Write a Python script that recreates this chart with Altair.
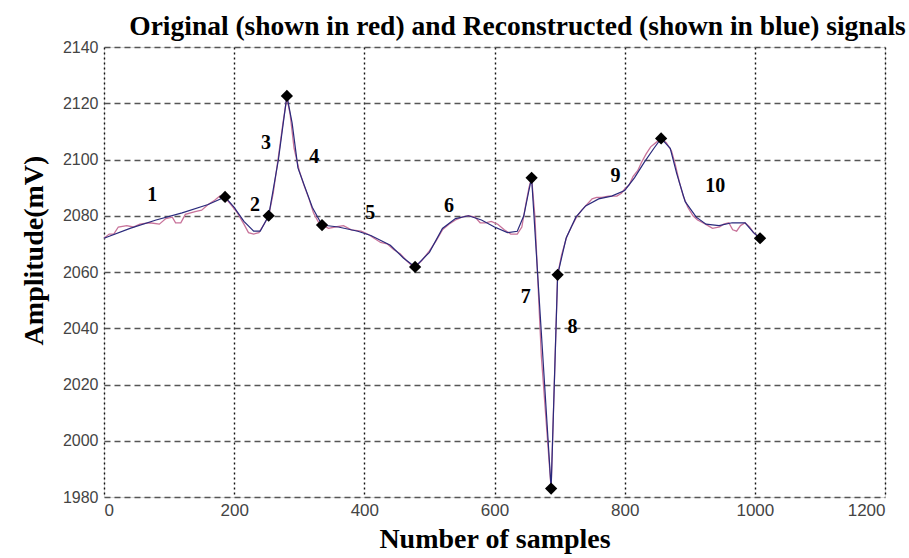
import altair as alt
import pandas as pd

# Original signal (red)
orig_x = [0, 8, 15, 22, 35, 45, 55, 70, 85, 95, 105, 110, 118, 125, 140, 150, 160, 170, 178, 186,
          195, 205, 215, 222, 230, 238, 246, 253, 260, 268, 275, 281, 286, 292, 300, 307, 315, 322,
          330, 337, 345, 355, 368, 380, 395, 405, 415, 425, 435, 445, 455, 465, 472, 478, 488, 500,
          510, 520, 530, 540, 550, 560, 570, 578, 586, 595, 605, 615, 625, 635, 642, 648, 653, 657,
          662, 672, 687, 697, 703, 711, 718, 726, 734, 742, 750, 757, 765, 775, 788, 795, 800, 807,
          813, 820, 826, 833, 840, 848, 856, 864, 872, 878, 884, 890, 897, 905, 912, 920, 928, 935,
          946, 952, 960, 966, 972, 978, 985, 992, 998, 1008]
orig_y = [2072, 2073.5, 2073.5, 2076, 2076.5, 2076, 2077, 2077.5, 2077, 2079, 2079.5, 2077.5, 2077.5,
          2080.5, 2081.5, 2082, 2084, 2085.5, 2087, 2086.5,
          2084, 2081, 2077, 2074, 2073.5, 2074, 2077, 2080, 2088, 2101, 2113, 2122, 2116, 2104, 2096,
          2091, 2086, 2081, 2077.5, 2076.5, 2075.5, 2076, 2076.5, 2075, 2074.5, 2073.5, 2072, 2070.5,
          2070, 2068, 2066.5, 2064, 2062.5, 2061.8, 2064, 2067.5, 2071, 2075, 2077, 2078.5, 2079.5,
          2080, 2079.5, 2077.5, 2077.5, 2078, 2077, 2075, 2073.5, 2073.5, 2076, 2084, 2090, 2093.5,
          2080, 2030, 1983, 2059, 2066, 2072.5, 2076, 2079.5, 2082, 2084, 2086, 2086.5, 2086.5, 2087,
          2087, 2088, 2089.5, 2091, 2094, 2096, 2099, 2102, 2104.5, 2106, 2107.5, 2106, 2103, 2098,
          2092, 2087, 2083, 2080, 2078.5, 2077.5, 2076.5, 2075.5, 2076, 2077, 2077.5, 2075, 2074.5,
          2076.5, 2077.5, 2076, 2074, 2072]

# Reconstructed signal (blue)
rec_x = [0, 40, 80, 120, 160, 186, 200, 215, 230, 240, 253, 268, 281, 289, 298, 309, 320, 335, 360,
         390, 410, 440, 460, 478, 500, 520, 540, 560, 580, 600, 620, 635, 645, 652, 657, 687, 697,
         710, 725, 740, 760, 780, 800, 815, 830, 845, 856, 870, 880, 893, 910, 925, 945, 965, 985,
         998, 1008]
rec_y = [2072, 2075.5, 2078.5, 2081, 2084, 2086.7, 2083, 2078, 2074.5, 2074.5, 2080, 2100, 2122.6,
         2113, 2097, 2090, 2083, 2076.7, 2076, 2074.5, 2073, 2069.5, 2065, 2061.8, 2067, 2075.5,
         2079, 2080, 2078.5, 2076, 2074, 2074.5, 2080, 2088, 2093.5, 1983, 2059, 2072, 2079.5,
         2083.5, 2086, 2087, 2089, 2093.5, 2099, 2104, 2107.5, 2104, 2095, 2085, 2079.5, 2077,
         2076.5, 2077.5, 2077.5, 2074, 2072]

# Segment boundary markers
mark_x = [186, 253, 281, 335, 478, 657, 687, 697, 856, 1008]
mark_y = [2086.7, 2080, 2122.6, 2076.7, 2061.8, 2093.5, 1983, 2059, 2107.5, 2072]

# Segment numbers
seg_label = ["1", "2", "3", "4", "5", "6", "7", "8", "9", "10"]
seg_x = [74, 232, 249, 323, 409, 530, 648, 720, 786, 939]
seg_y = [2087.4, 2083.8, 2105.9, 2100.9, 2081, 2083.5, 2051, 2040.4, 2094, 2090.6]

x_ticks = [0, 200, 400, 600, 800, 1000, 1200]
y_ticks = [1980, 2000, 2020, 2040, 2060, 2080, 2100, 2120, 2140]

orig_df = pd.DataFrame({"x": orig_x, "y": orig_y})
rec_df = pd.DataFrame({"x": rec_x, "y": rec_y})
mark_df = pd.DataFrame({"x": mark_x, "y": mark_y})
seg_df = pd.DataFrame({"x": seg_x, "y": seg_y, "label": seg_label})

xscale = alt.Scale(domain=[0, 1200], nice=False, zero=False)
yscale = alt.Scale(domain=[1980, 2140], nice=False, zero=False)

xaxis = alt.Axis(values=x_ticks, title="Number of samples", grid=True, gridDash=[2, 3],
                 gridColor="#111111", gridWidth=1.4, gridOpacity=1, ticks=False, domain=False,
                 labelFont="Liberation Sans", labelFontSize=17, labelColor="#444444",
                 labelPadding=5, titleFont="Liberation Serif", titleFontSize=28,
                 titleFontWeight="bold", titleColor="black", titlePadding=7, format="d")
yaxis = alt.Axis(values=y_ticks, title="Amplitude(mV)", grid=True, gridDash=[6, 4],
                 gridColor="#555555", gridWidth=1.3, gridOpacity=1, ticks=False, domain=False,
                 labelFont="Liberation Sans", labelFontSize=16, labelColor="#444444",
                 labelPadding=6, titleFont="Liberation Serif", titleFontSize=28,
                 titleFontWeight="bold", titleColor="black", titlePadding=14, titleY=203,
                 format="d")

red = alt.Chart(orig_df).mark_line(color="#c8739a", strokeWidth=1.3).encode(
    x=alt.X("x:Q", scale=xscale, axis=xaxis),
    y=alt.Y("y:Q", scale=yscale, axis=yaxis),
    order="x:Q",
)
blue = alt.Chart(rec_df).mark_line(color="#2a2a7c", strokeWidth=1.2).encode(
    x=alt.X("x:Q", scale=xscale),
    y=alt.Y("y:Q", scale=yscale),
    order="x:Q",
)
marks = alt.Chart(mark_df).mark_point(shape="diamond", filled=True, color="black",
                                      size=150, opacity=1).encode(
    x=alt.X("x:Q", scale=xscale),
    y=alt.Y("y:Q", scale=yscale),
)
labels = alt.Chart(seg_df).mark_text(font="Liberation Serif", fontWeight="bold", fontSize=20,
                                     color="black").encode(
    x=alt.X("x:Q", scale=xscale),
    y=alt.Y("y:Q", scale=yscale),
    text="label:N",
)

chart = alt.layer(red, blue, marks, labels).properties(
    width=781,
    height=450,
    autosize=alt.AutoSizeParams(type="none"),
    padding={"left": 104, "top": 47, "right": 24, "bottom": 61},
    title=alt.TitleParams(
        "Original (shown in red) and Reconstructed (shown in blue) signals",
        font="Liberation Serif", fontSize=27.5, fontWeight="bold", color="black",
        anchor="middle", dx=23, offset=-1,
    ),
).configure_view(stroke="#333333", strokeWidth=1.5).configure(background="white")

chart.save("out.html", embed_options={"renderer": "svg", "actions": False})
